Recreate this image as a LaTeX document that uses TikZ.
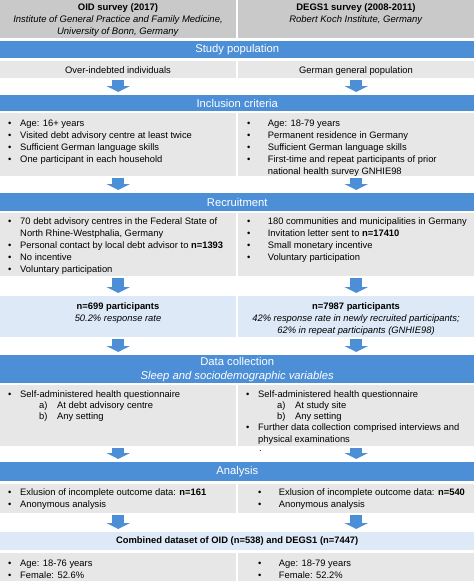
\documentclass[tikz,border=0pt]{standalone}
\usepackage{fontspec}
\setmainfont{Liberation Sans}
\usetikzlibrary{arrows.meta, positioning, calc}
\definecolor{barblue}{RGB}{77,143,214}
\definecolor{headgrey}{RGB}{201,201,201}
\definecolor{boxgrey}{RGB}{231,231,231}
\definecolor{nblue}{RGB}{221,233,246}
\newcommand{\bodyfont}{\fontsize{8}{10.2}\selectfont}
\newcommand{\titlefont}{\fontsize{9.6}{11}\selectfont}
\newcommand{\bul}[1][0.36cm]{\makebox[#1][l]{\textbullet}}
\newcommand{\ind}[1][0.36cm]{\makebox[#1]{}}
\newcommand{\sub}[1]{\makebox[0.93cm]{}\makebox[0.54cm][l]{#1}}

\begin{document}
\begin{tikzpicture}[x=0.03cm, y=-0.03cm,
  bar/.style={anchor=north west, fill=barblue, text=white, font=\titlefont, align=center, minimum width=14.22cm, inner sep=0pt},
  greybox/.style={anchor=north west, fill=boxgrey, minimum width=7.08cm, inner sep=0pt},
  headbox/.style={greybox, fill=headgrey},
  nbox/.style={greybox, fill=nblue},
  txt/.style={anchor=north west, font=\bodyfont, align=left, inner sep=0pt},
  ctxt/.style={anchor=north, font=\bodyfont, align=center, inner sep=0pt},
  blockarr/.style={draw=barblue, line width=0.36cm, -{Triangle[length=0.18cm, width=0.7cm]}, shorten <=0.06cm, shorten >=0.09cm}]
  \useasboundingbox (0,0) rectangle (474,581);
  % survey headers
  \node[headbox, minimum height=1.14cm] (hdL) at (0,0) {};
  \node[headbox, minimum height=1.14cm] (hdR) at (238,0) {};
  \node[ctxt, font=\fontsize{8.1}{10.2}\selectfont] (hdLt) at (118,3.5) {\textbf{OID survey (2017)}\\ \textit{Institute of General Practice and Family Medicine,}\\ \textit{University of Bonn, Germany}};
  \node[ctxt, font=\fontsize{8.1}{10.2}\selectfont] (hdRt) at (356,3.5) {\textbf{DEGS1 survey (2008-2011)}\\ \textit{Robert Koch Institute, Germany}};
  % study population
  \node[bar, minimum height=0.51cm] (study) at (0,41) {Study population};
  \node[greybox, minimum height=0.51cm] (popL) at (0,61) {};
  \node[greybox, minimum height=0.51cm] (popR) at (238,61) {};
  \node[ctxt] (popLt) at (118,66) {Over-indebted individuals};
  \node[ctxt] (popRt) at (356,66) {German general population};
  % inclusion criteria
  \node[bar, minimum height=0.48cm] (inc) at (0,95) {Inclusion criteria};
  \node[greybox, minimum height=1.89cm] (incL) at (0,113) {};
  \node[greybox, minimum height=1.89cm] (incR) at (238,113) {};
  \node[txt] (incLt) at (8,119.5) {\bul Age: 16+ years\\ \bul Visited debt advisory centre at least twice\\ \bul Sufficient German language skills\\ \bul One participant in each household};
  \node[txt] (incRt) at (247,119.5) {\bul[0.54cm] Age: 18-79 years\\ \bul[0.54cm] Permanent residence in Germany\\ \bul[0.54cm] Sufficient German language skills\\ \bul[0.54cm] First-time and repeat participants of prior\\ \ind[0.54cm] national health survey GNHIE98};
  % recruitment
  \node[bar, minimum height=0.54cm] (rec) at (0,193) {Recruitment};
  \node[greybox, minimum height=1.89cm] (recL) at (0,213) {};
  \node[greybox, minimum height=1.89cm] (recR) at (238,213) {};
  \node[txt] (recLt) at (8,217.5) {\bul 70 debt advisory centres in the Federal State of\\ \ind North Rhine-Westphalia, Germany\\ \bul Personal contact by local debt advisor to \textbf{n=1393}\\ \bul No incentive\\ \bul Voluntary participation};
  \node[txt] (recRt) at (247,217.5) {\bul[0.54cm] 180 communities and municipalities in Germany\\ \bul[0.54cm] Invitation letter sent to \textbf{n=17410}\\ \bul[0.54cm] Small monetary incentive\\ \bul[0.54cm] Voluntary participation};
  % participants
  \node[nbox, minimum height=1.23cm] (nL) at (0,296) {};
  \node[nbox, minimum height=1.23cm] (nR) at (238,296) {};
  \node[ctxt] (nLt) at (118,302.5) {\textbf{n=699 participants}\\ \textit{50.2\% response rate}};
  \node[ctxt] (nRt) at (356,302.5) {\textbf{n=7987 participants}\\ \textit{42\% response rate in newly recruited participants;}\\ \textit{62\% in repeat participants (GNHIE98)}};
  % data collection
  \node[bar, minimum height=0.84cm, font=\fontsize{9.6}{11.7}\selectfont] (data) at (0,355) {Data collection\\ \textit{Sleep and sociodemographic variables}};
  \node[greybox, minimum height=1.83cm] (datL) at (0,385) {};
  \node[greybox, minimum height=1.83cm] (datR) at (238,385) {};
  \node[txt, font=\fontsize{8}{9.5}\selectfont] (datLt) at (8,390.5) {\bul Self-administered health questionnaire\\ \sub{a)}At debt advisory centre\\ \sub{b)}Any setting};
  \node[txt, font=\fontsize{8}{9.5}\selectfont] (datRt) at (246,390.5) {\bul Self-administered health questionnaire\\ \sub{a)}At study site\\ \sub{b)}Any setting\\ \bul Further data collection comprised interviews and\\ \ind physical examinations};
  \node[txt] (dot) at (259,450) {.};
  % analysis
  \node[bar, minimum height=0.57cm] (ana) at (0,462) {Analysis};
  \node[greybox, minimum height=0.87cm] (anaL) at (0,484) {};
  \node[greybox, minimum height=0.87cm] (anaR) at (238,484) {};
  \node[txt] (anaLt) at (8,488.5) {\bul Exlusion of incomplete outcome data: \textbf{n=161}\\ \bul Anonymous analysis};
  \node[txt] (anaRt) at (258,488.5) {\bul[0.54cm] Exlusion of incomplete outcome data: \textbf{n=540}\\ \bul[0.54cm] Anonymous analysis};
  % combined dataset
  \node[bar, minimum height=0.54cm, fill=nblue, text=black, font=\fontsize{8}{9}\selectfont\bfseries] (comb) at (0,532) {Combined dataset of OID (n=538) and DEGS1 (n=7447)};
  \node[greybox, minimum height=0.84cm] (resL) at (0,553) {};
  \node[greybox, minimum height=0.84cm] (resR) at (238,553) {};
  \node[txt] (resLt) at (8,559.5) {\bul Age: 18-76 years\\ \bul Female: 52.6\%};
  \node[txt] (resRt) at (258,559.5) {\bul[0.54cm] Age: 18-79 years\\ \bul[0.54cm] Female: 52.2\%};
  % arrows
  \foreach \a/\b in {popL/inc, incL/rec, recL/nL, nL/data, datL/ana, anaL/comb,
                     popR/inc, incR/rec, recR/nR, nR/data, datR/ana, anaR/comb}
    \draw[blockarr] (\a.south) -- (\a.south |- \b.north);
\end{tikzpicture}
\end{document}
